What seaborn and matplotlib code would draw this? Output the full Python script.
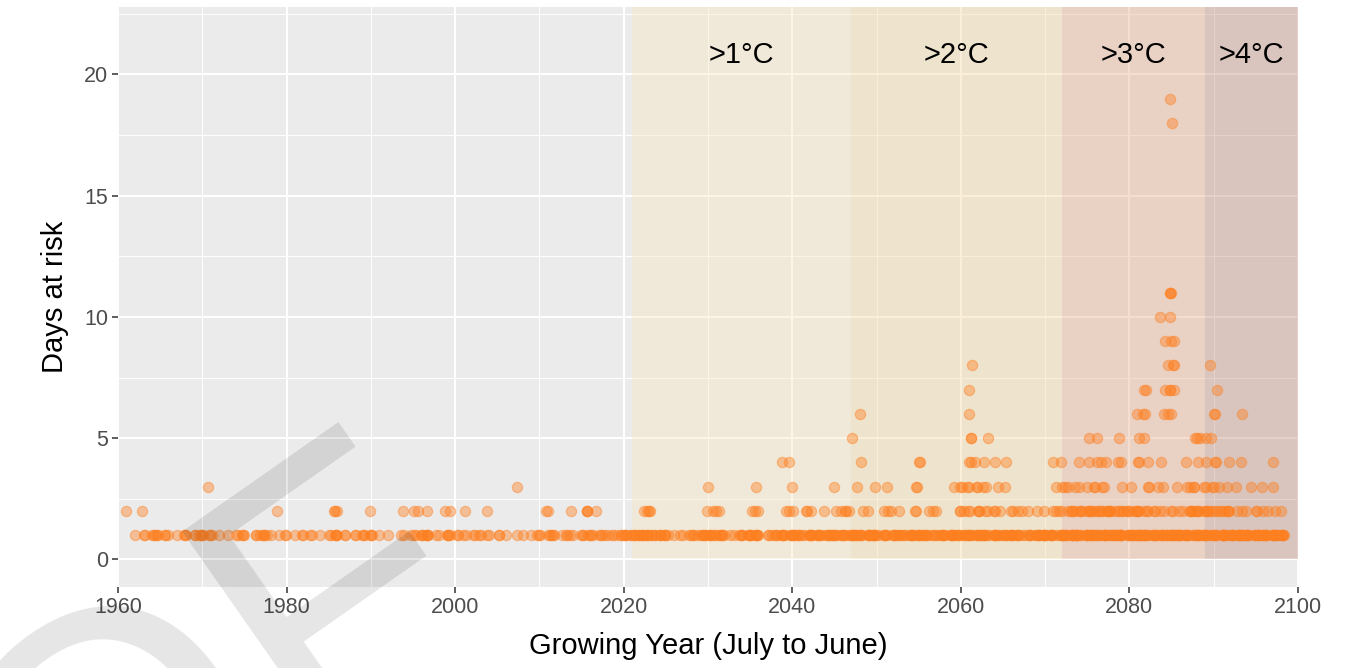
import numpy as np
import pandas as pd
import seaborn as sns
import matplotlib.pyplot as plt
from matplotlib.patches import Rectangle

# years with at least one day at risk
years = list(range(1961, 2099))

# number of model runs with exactly 1 day at risk, one entry per year 1961-2098
day1_counts = [
    0, 1, 2, 3, 2, 3, 1, 3, 2, 4,      # 1961-1970
    3, 1, 1, 2, 3, 2, 4, 2, 1, 2,      # 1971-1980
    1, 2, 2, 1, 2, 4, 2, 2, 3, 3,      # 1981-1990
    1, 1, 0, 2, 3, 3, 4, 2, 4, 2,      # 1991-2000
    2, 2, 2, 2, 2, 1, 1, 1, 1, 3,      # 2001-2010
    3, 2, 3, 2, 3, 4, 3, 2, 3, 5,      # 2011-2020
    5, 6, 5, 5, 4, 1, 2, 4, 4, 5,      # 2021-2030
    5, 3, 2, 4, 5, 5, 2, 4, 5, 6,      # 2031-2040
    5, 6, 5, 5, 6, 5, 6, 6, 5, 6,      # 2041-2050
    5, 5, 5, 6, 6, 5, 4, 5, 6, 6,      # 2051-2060
    6, 6, 6, 6, 5, 5, 5, 5, 6, 6,      # 2061-2070
    6, 7, 7, 7, 7, 7, 7, 7, 7, 7,      # 2071-2080
    7, 7, 7, 7, 7, 7, 7, 7, 7, 7,      # 2081-2090
    7, 7, 7, 7, 7, 7, 7, 7,            # 2091-2098
]

# years (one entry per model run) with more days at risk
day2_years = [1961, 1963, 1979, 1986, 1986, 1986, 1990, 1994, 1995, 1996, 1997,
              1999, 1999, 2001, 2004, 2011, 2011, 2014, 2016, 2016, 2016, 2017,
              2022, 2023, 2023, 2023, 2030, 2031, 2031, 2031, 2035, 2036, 2036,
              2039, 2040, 2040, 2042, 2042, 2042, 2044, 2045, 2046, 2046, 2046,
              2047, 2048, 2049, 2051, 2051, 2052, 2053, 2055, 2055, 2056, 2057,
              2057, 2060, 2060, 2060, 2061, 2061, 2062, 2062, 2062, 2063, 2063,
              2064, 2064, 2065, 2066, 2066, 2067, 2067, 2068, 2069, 2070, 2071,
              2071, 2072, 2072,
              2073, 2073, 2073, 2073, 2074, 2074, 2074, 2074, 2075, 2075, 2075,
              2075, 2076, 2076, 2076, 2076, 2077, 2077, 2077, 2077, 2078, 2078,
              2078, 2078, 2079, 2079, 2079, 2079, 2080, 2080, 2080, 2080, 2081,
              2081, 2081, 2081, 2082, 2082, 2082, 2083, 2083, 2084, 2084, 2085,
              2085, 2086, 2086, 2087, 2087, 2087, 2087, 2088, 2088, 2088, 2088,
              2089, 2089, 2089, 2089, 2090, 2090, 2090, 2091, 2091, 2091, 2092,
              2092, 2092, 2093, 2093, 2094, 2095, 2095, 2096, 2096, 2097, 2098]
day3_years = [1971, 2007, 2030, 2036, 2040, 2045, 2048, 2050, 2051, 2055, 2055,
              2059, 2060, 2060, 2061, 2061, 2062, 2062, 2063, 2063, 2064, 2065,
              2071, 2072, 2072, 2073, 2074, 2074, 2075, 2076, 2076, 2077, 2077,
              2079, 2080, 2082, 2082, 2083, 2084, 2086, 2087, 2087, 2088, 2088,
              2089, 2089, 2090, 2090, 2091, 2092, 2093, 2094, 2096, 2097]
day4_years = [2039, 2040, 2048, 2055, 2055, 2061, 2061, 2062, 2063, 2064, 2065,
              2071, 2072, 2074, 2075, 2076, 2077, 2077, 2079, 2079, 2081, 2081,
              2082, 2084, 2087, 2088, 2089, 2090, 2090, 2092, 2093, 2097]
day5_years = [2047, 2061, 2061, 2063, 2075, 2076, 2079, 2081, 2082, 2088, 2088,
              2088, 2089, 2090]
day6_years = [2048, 2061, 2081, 2082, 2082, 2084, 2085, 2085, 2090, 2090, 2093]
day7_years = [2061, 2082, 2082, 2084, 2085, 2085, 2085, 2090]
day8_years = [2061, 2085, 2085, 2085, 2090]
day9_years = [2084, 2085, 2085]
day10_years = [2084, 2085]
day11_years = [2085, 2085, 2085]
day18_years = [2085]
day19_years = [2085]

# warming levels
band_labels = [">1°C", ">2°C", ">3°C", ">4°C"]
band_start = [2021, 2047, 2072, 2089]
band_end = [2047, 2072, 2089, 2100]
band_colors = ["#F8E6C0", "#F5D7A0", "#E6AC87", "#BE8E78"]

rows = []
for yr, n in zip(years, day1_counts):
    rows += [(yr, 1)] * n
for d, lst in [(2, day2_years), (3, day3_years), (4, day4_years), (5, day5_years),
               (6, day6_years), (7, day7_years), (8, day8_years), (9, day9_years),
               (10, day10_years), (11, day11_years), (18, day18_years),
               (19, day19_years)]:
    rows += [(yr, d) for yr in lst]
df = pd.DataFrame(rows, columns=["year", "days"])

sns.set_theme(style="darkgrid")
plt.rcParams['font.family'] = ['Liberation Sans', 'DejaVu Sans']

fig = plt.figure(figsize=(13.7, 6.68), dpi=100)
ax = fig.add_axes([118 / 1370, 1 - 587 / 668, 1180 / 1370, 580 / 668])
ax.set_facecolor("#EBEBEB")

for x0, x1, c in zip(band_start, band_end, band_colors):
    ax.add_patch(Rectangle((x0, 0), x1 - x0, 30, facecolor=c, alpha=0.4,
                           edgecolor="none", zorder=1))

np.random.seed(3)
sns.stripplot(data=df, x="year", y="days", native_scale=True, jitter=0.42,
              color="#FF7F1F", edgecolor="#FF7F1F", linewidth=0.9, alpha=0.42,
              size=7.4, ax=ax, zorder=3)

for lab, x0, x1 in zip(band_labels, band_start, band_end):
    ax.text((x0 + x1) / 2, 20.8, lab, ha="center", va="center", fontsize=21,
            color="black", zorder=4)

ax.set_xlim(1960, 2100)
ax.set_ylim(-1.14, 22.78)
ax.set_xticks(range(1960, 2101, 20))
ax.set_xticks(range(1970, 2100, 20), minor=True)
ax.set_yticks([0, 5, 10, 15, 20])
ax.set_yticks([2.5, 7.5, 12.5, 17.5, 22.5], minor=True)
ax.set_axisbelow(True)
ax.grid(which="major", color="white", linewidth=1.5)
ax.grid(which="minor", color="white", linewidth=0.7)
for s in ax.spines.values():
    s.set_visible(False)
ax.tick_params(which="major", length=4, width=1.1, color="#333333",
               labelsize=15.5, labelcolor="#4D4D4D", pad=3,
               bottom=True, left=True)
ax.tick_params(which="minor", length=0)
ax.set_xlabel("Growing Year (July to June)", fontsize=21, color="black", labelpad=10)
ax.set_ylabel("Days at risk", fontsize=21, color="black", labelpad=11)

# watermark: only the end of the word falls inside the figure
fig.text(0.365, 0.0793, "PROOF", rotation=35, rotation_mode="anchor",
         ha="right", va="baseline", fontsize=281,
         color="black", alpha=0.1, zorder=10)

fig.savefig("out.png", dpi=100)
